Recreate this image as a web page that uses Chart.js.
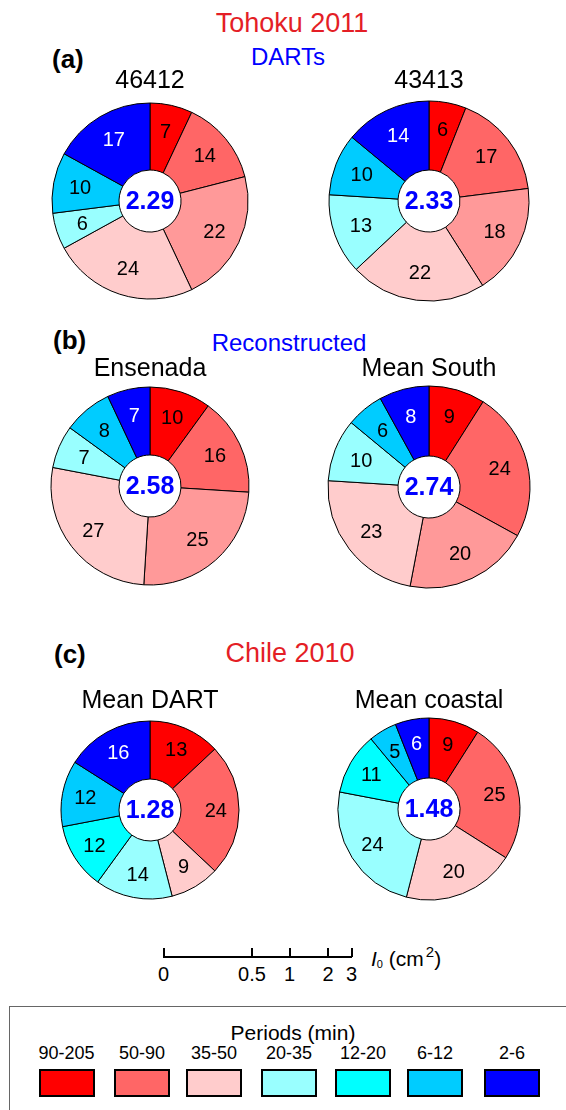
<!DOCTYPE html>
<html>
<head>
<meta charset="utf-8">
<script src="https://cdn.jsdelivr.net/npm/chart.js@4.4.1/dist/chart.umd.min.js"></script>
<style>
body { margin: 0; background: #fff; font-family: "Liberation Sans", Arial, sans-serif; }
#page { position: relative; width: 566px; height: 1110px; overflow: hidden; }
.t { position: absolute; white-space: nowrap; line-height: 1; }
.c { transform: translateX(-50%); }
.red { color: #e41e26; }
.blue { color: #0000ff; }
.panel { font-weight: bold; font-size: 26px; }
.stn { font-size: 25px; color: #000; }
canvas.pie { position: absolute; }
#legendBox { position: absolute; left: 9px; top: 1006px; width: 620px; height: 200px; border: 1px solid #666; }
.sw { position: absolute; width: 56px; height: 28px; box-sizing: border-box; border: 2px solid #000; }
</style>
</head>
<body>
<div id="page">
  <div class="t c red" style="left:292px; top:10px; font-size:27px;">Tohoku 2011</div>
  <div class="t c blue" style="left:288px; top:45px; font-size:24px;">DARTs</div>
  <div class="t panel" style="left:52px; top:46px;">(a)</div>

  <div class="t c blue" style="left:289px; top:331px; font-size:24px;">Reconstructed</div>
  <div class="t panel" style="left:53px; top:327px;">(b)</div>

  <div class="t c red" style="left:290px; top:640px; font-size:27px;">Chile 2010</div>
  <div class="t panel" style="left:54px; top:641px;">(c)</div>

  <div id="scaleKey"></div>
  <div id="legendBox"></div>
</div>
<script>
// Period bands (legend) and the colours used for them
let periodBands = ['90-205', '50-90', '35-50', '20-35', '12-20', '6-12', '2-6'];
let chileColors = ['#ff0000', '#ff6666', '#ffcccc', '#99ffff', '#00ffff', '#00ccff', '#0000ff'];
let tohokuColors = ['#ff0000', '#ff6666', '#ff9999', '#ffcccc', '#99ffff', '#00ccff', '#0000ff'];

// share of each band (%) clockwise from the top
let pct46412 = [7, 14, 22, 24, 6, 10, 17];
let pct43413 = [6, 17, 18, 22, 13, 10, 14];
let pctEnsenada = [10, 16, 25, 27, 7, 8, 7];
let pctMeanSouth = [9, 24, 20, 23, 10, 6, 8];
let pctMeanDart = [13, 24, 9, 14, 12, 12, 16];
let pctMeanCoastal = [9, 25, 20, 24, 11, 5, 6];

// total I0 (cm^2) in the middle of each pie
let totalI0 = [2.29, 2.33, 2.58, 2.74, 1.28, 1.48];
let stationNames = ['46412', '43413', 'Ensenada', 'Mean South', 'Mean DART', 'Mean coastal'];

// I0 scale key
let scaleTicks = ['0', '0.5', '1', '2', '3'];

let pies = [
    { name: stationNames[0], data: pct46412, colors: tohokuColors, total: totalI0[0], cx: 150, cy: 201, r: 98, titleTop: 67 },
    { name: stationNames[1], data: pct43413, colors: tohokuColors, total: totalI0[1], cx: 429, cy: 201, r: 100, titleTop: 67 },
    { name: stationNames[2], data: pctEnsenada, colors: tohokuColors, total: totalI0[2], cx: 150, cy: 486, r: 99, titleTop: 355 },
    { name: stationNames[3], data: pctMeanSouth, colors: tohokuColors, total: totalI0[3], cx: 429, cy: 487, r: 101, titleTop: 355 },
    { name: stationNames[4], data: pctMeanDart, colors: chileColors, total: totalI0[4], cx: 150, cy: 810, r: 89, titleTop: 687 },
    { name: stationNames[5], data: pctMeanCoastal, colors: chileColors, total: totalI0[5], cx: 429, cy: 809, r: 91, titleTop: 687 }
];

const INNER = 31;
const FONT = '"Liberation Sans", Arial, sans-serif';

const ringLabels = {
    id: 'ringLabels',
    afterDatasetsDraw(chart, args, opts) {
        let ctx = chart.ctx;
        let ds = chart.data.datasets[0];
        let meta = chart.getDatasetMeta(0);
        ctx.save();
        ctx.textAlign = 'center';
        ctx.textBaseline = 'middle';
        ctx.font = '20px ' + FONT;
        meta.data.forEach((arc, i) => {
            let p = arc.getProps(['x', 'y', 'startAngle', 'endAngle', 'innerRadius', 'outerRadius']);
            let a = (p.startAngle + p.endAngle) / 2;
            let r = p.innerRadius + 0.6 * (p.outerRadius - p.innerRadius);
            ctx.fillStyle = ds.backgroundColor[i] === '#0000ff' ? '#ffffff' : '#000000';
            ctx.fillText(String(ds.data[i]), p.x + r * Math.cos(a), p.y + r * Math.sin(a) + 1);
        });
        let c = meta.data[0];
        ctx.font = 'bold 25px ' + FONT;
        ctx.fillStyle = '#0000ff';
        ctx.fillText(opts.total.toFixed(2), c.x, c.y + 1);
        ctx.restore();
    }
};

let page = document.getElementById('page');

pies.forEach((pie) => {
    let size = 230;
    let cv = document.createElement('canvas');
    cv.className = 'pie';
    cv.width = size;
    cv.height = size;
    cv.style.left = (pie.cx - size / 2) + 'px';
    cv.style.top = (pie.cy - size / 2) + 'px';
    page.appendChild(cv);

    let title = document.createElement('div');
    title.className = 't c stn';
    title.style.left = pie.cx + 'px';
    title.style.top = pie.titleTop + 'px';
    title.textContent = pie.name;
    page.appendChild(title);

    new Chart(cv, {
        type: 'doughnut',
        data: {
            labels: periodBands,
            datasets: [{
                data: pie.data,
                backgroundColor: pie.colors,
                borderColor: '#000000',
                borderWidth: 1
            }]
        },
        options: {
            responsive: false,
            animation: false,
            devicePixelRatio: 1,
            radius: pie.r,
            cutout: (INNER / pie.r * 100) + '%',
            layout: { padding: 0 },
            plugins: {
                legend: { display: false },
                tooltip: { enabled: false },
                ringLabels: { total: pie.total }
            }
        },
        plugins: [ringLabels]
    });
});

// I0 scale key
let key = document.getElementById('scaleKey');
let keyLeft = 163;
let keyOffsets = [0, 88.5, 126, 164.5, 188];
let keyLine = document.createElement('div');
keyLine.style.cssText = 'position:absolute; left:' + keyLeft + 'px; top:956px; width:' + (keyOffsets[4] + 1) + 'px; height:2px; background:#000;';
key.appendChild(keyLine);
scaleTicks.forEach((lab, i) => {
    let tk = document.createElement('div');
    tk.style.cssText = 'position:absolute; left:' + (keyLeft + keyOffsets[i] - 0.5) + 'px; top:948px; width:2px; height:9px; background:#000;';
    key.appendChild(tk);
    let tx = document.createElement('div');
    tx.className = 't c';
    tx.style.cssText += 'left:' + (keyLeft + keyOffsets[i] + 0.5) + 'px; top:964px; font-size:20px;';
    tx.textContent = lab;
    key.appendChild(tx);
});
let unit = document.createElement('div');
unit.className = 't';
unit.style.cssText += 'left:371px; top:948px; font-size:21px;';
unit.innerHTML = '<span style="font-style:italic">I</span><span style="font-size:11px; position:relative; top:2px;">0</span> (cm<span style="font-size:15px; position:relative; top:-9px; margin-left:2px;">2</span>)';
key.appendChild(unit);

// legend
let legendTitle = document.createElement('div');
legendTitle.className = 't c';
legendTitle.style.cssText += 'left:293px; top:1022px; font-size:21px;';
legendTitle.textContent = 'Periods (min)';
page.appendChild(legendTitle);

let swatchLefts = [38.5, 114, 186, 261, 335, 407, 484];
periodBands.forEach((band, i) => {
    let sw = document.createElement('div');
    sw.className = 'sw';
    sw.style.left = swatchLefts[i] + 'px';
    sw.style.top = '1069px';
    sw.style.background = chileColors[i];
    page.appendChild(sw);
    let lb = document.createElement('div');
    lb.className = 't c';
    lb.style.cssText += 'left:' + (swatchLefts[i] + 28) + 'px; top:1044px; font-size:18px;';
    lb.textContent = band;
    page.appendChild(lb);
});
</script>
</body>
</html>
